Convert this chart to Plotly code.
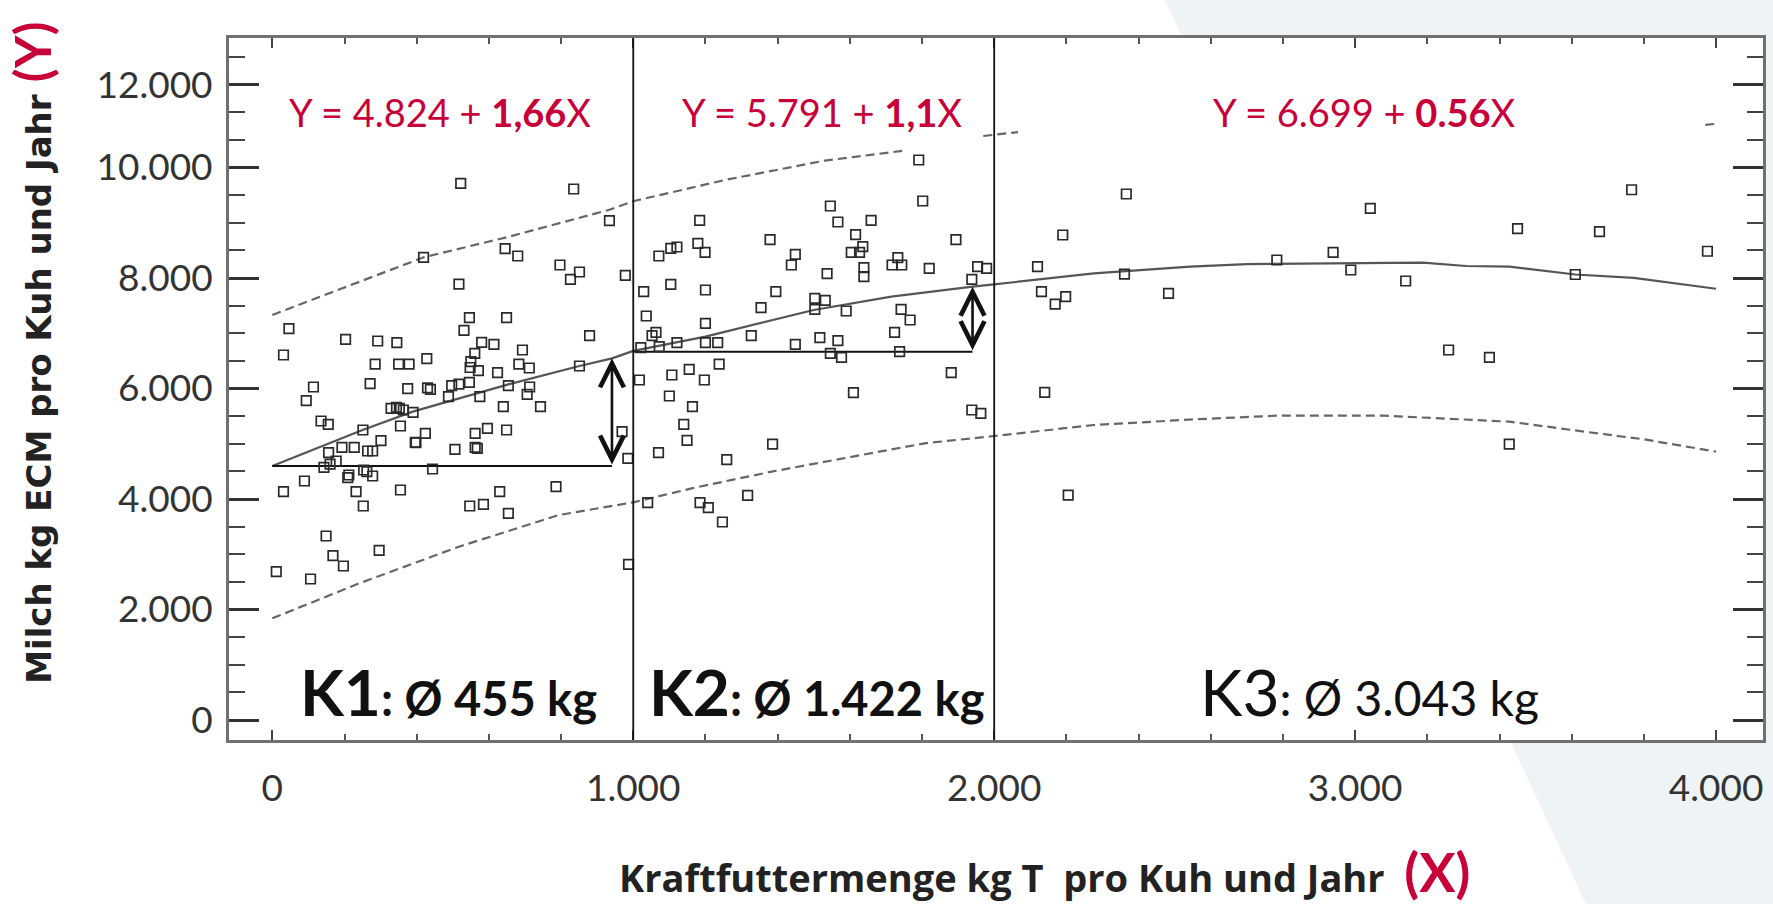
import plotly.graph_objects as go

# ---------------- data ----------------
k1_x = [522,835,934,419,645,680,797,851,826,978,517,46,31,203,292,345,546,649,531,580,
        614,561,550,548,571,693,683,712,624,879,851,285,350,379,428,114,271,375,430,438,
        497,517,546,654,713,706,488,575,94,135,155,329,344,352,363,390,251,355,301,193,
        227,264,278,156,177,160,143,396,398,424,562,596,649,640,743,562,568,506,444,212,
        209,253,262,278,89,31,232,252,355,630,786,547,585,654,149,168,197,296,11,106,
        969,985,987]
k1_y = [9713,9611,9038,8374,8531,8398,8235,8109,7976,8048,7891,7083,6606,6890,6860,6830,7282,7282,7053,6836,
        6799,6637,6486,6380,6323,6697,6443,6371,6287,6956,6407,6443,6443,6443,6540,6027,6088,5997,6010,5985,
        6051,6081,6112,6051,6027,5894,5852,5852,5780,5412,5351,5641,5659,5641,5611,5569,5249,5321,5056,4935,
        4935,4869,4869,4839,4688,4633,4573,5026,5020,5189,5189,5279,5249,5671,5671,4935,4917,4899,4543,4434,
        4386,4525,4495,4416,4326,4133,4133,3873,4163,4133,4223,3873,3903,3741,3330,2974,2787,3071,2685,2552,
        5219,4736,2817]

k2_x = [1791,1802,1546,1567,1659,1184,1379,1616,1894,1071,1104,1121,1179,1199,1449,1438,1604,1627,1636,1639,
        1639,1537,1717,1733,1744,1820,1954,1979,1938,1029,1104,1200,1395,1036,1354,1503,1532,1503,1590,1742,
        1767,1052,1063,1200,1021,1072,1121,1200,1234,1327,1449,1517,1567,1546,1577,1724,1738,1881,1017,1107,
        1155,1238,1197,1100,1610,1164,1140,1149,1070,1259,1386,1040,1185,1208,1247,1317,1938,1963]
k2_y = [10136,9394,9303,9014,9044,9044,8694,8784,8694,8398,8537,8561,8627,8465,8428,8235,8465,8465,8567,8187,
        8024,8078,8235,8368,8235,8175,8205,8175,7976,7753,7885,7783,7753,7312,7463,7632,7596,7433,7403,7433,
        7240,6956,7017,7180,6739,6757,6830,6830,6830,6956,6799,6920,6866,6636,6564,7017,6667,6287,6154,6244,
        6347,6443,6154,5864,5925,5671,5351,5062,4839,4712,4995,3934,3934,3843,3584,4066,5611,5551]

k3_x = [2120,2131,2169,2198,2190,2140,2205,2361,2366,2483,2783,2939,2988,3042,3140,3259,3372,3427,3450,3610,
        3677,3766,3976]
k3_y = [8205,7753,7529,7662,8778,5931,4070,8072,9520,7722,8326,8465,8145,9261,7946,6697,6564,4995,8893,8063,
        8839,9597,8484]

# fitted curve and prediction band (visible parts)
fit_x = [0,250,389,517,654,851,941,1000,1200,1500,1715,1940,2000,2276,2543,2700,3000,3188,3307,3427,3610,3772,4000]
fit_y = [4597,5249,5581,5822,6075,6407,6546,6680,6940,7421,7662,7845,7885,8084,8205,8253,8265,8277,8217,8205,8063,8003,7805]

low_x = [0,241,517,794,1000,1162,1383,1604,1807,2000,2276,2552,2783,3078,3307,3427,3637,3800,4000]
low_y = [1840,2474,3137,3710,3940,4193,4495,4766,5008,5140,5339,5441,5508,5508,5430,5400,5218,5080,4857]

up_x = [0,419,656,932,1000,1254,1530,1745,None,1970,2066,None,3970,3998]
up_y = [7330,8374,8748,9231,9390,9774,10124,10300,None,10570,10640,None,10770,10790]

# class borders and baselines
borders = [1000, 2000]
base_k1 = dict(x0=0, x1=941, y=4597, top=6546)
base_k2 = dict(x0=1000, x1=1940, y=6667, top=7843)

# texts
x_ticks = [0, 1000, 2000, 3000, 4000]
x_ticktext = ["0", "1.000", "2.000", "3.000", "4.000"]
y_ticks = [0, 2000, 4000, 6000, 8000, 10000, 11500]
y_ticktext = ["0", "2.000", "4.000", "6.000", "8.000", "10.000", "12.000"]

equations = [
    (464, "Y = 4.824 + <b>1,66</b>X"),
    (1522, "Y = 5.791 + <b>1,1</b>X"),
    (3025, "Y = 6.699 + <b>0.56</b>X"),
]
eq_y = 11000
classes = [
    (489, "<b>K1</b><b><span style='font-size:47px'>: Ø 455 kg</span></b>"),
    (1510, "<b>K2</b><b><span style='font-size:47px'>: Ø 1.422 kg</span></b>"),
    (3039, "K3<span style='font-size:48px'>: Ø 3.043 kg</span>"),
]
class_y = 507

RED = "#c70039"
FONT = "Lato, 'Open Sans', sans-serif"
TITLE_FONT = "'Open Sans', Lato, sans-serif"

fig = go.Figure()

# background decoration (diagonal light band), hidden behind the white plot area
fig.add_shape(type="path", xref="paper", yref="paper", layer="below",
              path="M 0.609 1.06 L 1.01 1.06 L 1.01 -0.24 L 0.886 -0.24 Z",
              fillcolor="#eef3f6", line=dict(width=0))
fig.add_shape(type="rect", xref="paper", yref="paper", layer="below",
              x0=0, x1=1, y0=0, y1=1, fillcolor="white", line=dict(width=0))

fig.add_trace(go.Scatter(x=up_x, y=up_y, mode="lines", connectgaps=False,
                         line=dict(color="#666", width=2.2, dash="9px,5px"), hoverinfo="skip"))
fig.add_trace(go.Scatter(x=low_x, y=low_y, mode="lines",
                         line=dict(color="#666", width=2.2, dash="9px,5px"), hoverinfo="skip"))
fig.add_trace(go.Scatter(x=fit_x, y=fit_y, mode="lines",
                         line=dict(color="#555", width=2.2), hoverinfo="skip"))

for b in (base_k1, base_k2):
    fig.add_trace(go.Scatter(x=[b["x0"], b["x1"]], y=[b["y"], b["y"]], mode="lines",
                             line=dict(color="#111", width=2), hoverinfo="skip"))

marker = dict(symbol="square-open", size=9.5, color="#2a2a2a", line=dict(width=1.7, color="#2a2a2a"))
for xs, ys in ((k1_x, k1_y), (k2_x, k2_y), (k3_x, k3_y)):
    fig.add_trace(go.Scatter(x=xs, y=ys, mode="markers", marker=marker))

for bx in borders:
    fig.add_shape(type="line", xref="x", yref="paper", x0=bx, x1=bx, y0=0, y1=1,
                  line=dict(color="#111", width=1.8))

annotations = []
for b in (base_k1, base_k2):
    annotations.append(dict(x=b["x1"], y=b["top"], ax=b["x1"], ay=b["y"], xref="x", yref="y",
                            axref="x", ayref="y", text="", showarrow=True,
                            arrowhead=5, startarrowhead=5, arrowside="end+start",
                            arrowsize=1.8, startarrowsize=1.8, arrowwidth=2.6, arrowcolor="#111"))
for ex, t in equations:
    annotations.append(dict(x=ex, y=eq_y, xref="x", yref="y", text=t, showarrow=False,
                            xanchor="center", yanchor="middle",
                            font=dict(family=FONT, size=38, color=RED)))
for cx, t in classes:
    annotations.append(dict(x=cx, y=class_y, xref="x", yref="y", text=t, showarrow=False,
                            xanchor="center", yanchor="middle",
                            font=dict(family=FONT, size=64, color="#111")))

annotations.append(dict(
    x=-0.1282, y=0.552, xref="paper", yref="paper", textangle=-90, showarrow=False,
    xanchor="center", yanchor="middle",
    text="<b>Milch kg ECM pro Kuh und Jahr</b><b><span style='color:%s;font-size:50px;font-family:Lato'> (Y)</span></b>" % RED,
    font=dict(family="'DejaVu Sans', sans-serif", size=34, color="#222")))
annotations.append(dict(
    x=0.5316, y=-0.188, xref="paper", yref="paper", showarrow=False,
    xanchor="center", yanchor="middle",
    text="<b>Kraftfuttermenge kg T  pro Kuh und Jahr</b>  <b><span style='color:%s;font-size:54px;font-family:Lato'>(X)</span></b>" % RED,
    font=dict(family=TITLE_FONT, size=38, color="#222")))

fig.update_layout(
    width=1773, height=904,
    margin=dict(l=229, r=7, t=38, b=164),
    paper_bgcolor="white", plot_bgcolor="white",
    showlegend=False,
    font=dict(family=FONT, color="#333"),
    annotations=annotations,
)
fig.update_xaxes(range=[-120, 4130], tickmode="array", tickvals=x_ticks, ticktext=x_ticktext,
                 ticks="inside", ticklen=10, tickwidth=2, tickcolor="#444",
                 minor=dict(tickmode="linear", tick0=0, dtick=200, ticks="inside", ticklen=6,
                            tickwidth=1.5, tickcolor="#555"),
                 showline=True, linecolor="#707070", linewidth=3, mirror="allticks",
                 showgrid=False, zeroline=False, ticklabelstandoff=14,
                 tickfont=dict(family=FONT, size=37, color="#333"))
fig.update_yaxes(range=[-362, 12344], tickmode="array", tickvals=y_ticks, ticktext=y_ticktext,
                 ticks="inside", ticklen=30, tickwidth=2.5, tickcolor="#333",
                 minor=dict(tickmode="linear", tick0=0, dtick=500, ticks="inside", ticklen=16,
                            tickwidth=2, tickcolor="#444"),
                 showline=True, linecolor="#707070", linewidth=3, mirror="allticks",
                 showgrid=False, zeroline=False, ticklabelstandoff=6,
                 tickfont=dict(family=FONT, size=37, color="#333"))

fig.write_html("out.html", config={"displayModeBar": False},
               post_script="document.body.style.margin='0';")
